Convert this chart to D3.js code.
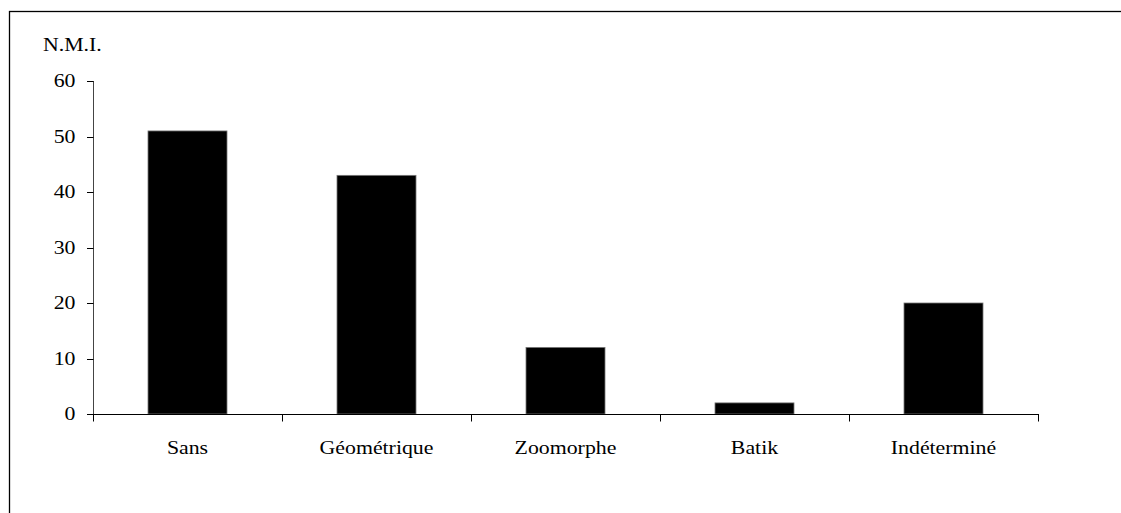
<!DOCTYPE html>
<html>
<head>
<meta charset="utf-8">
<script src="https://cdn.jsdelivr.net/npm/d3@7"></script>
<style>
  body { margin: 0; background: #fff; }
  text { font-family: "Liberation Serif", "Times New Roman", serif; font-size: 18.5px; fill: #000; }
</style>
</head>
<body>
<div id="chart"></div>
<script>
// data
var categories = ["Sans", "Géométrique", "Zoomorphe", "Batik", "Indéterminé"];
var values = [51, 43, 12, 2, 20];
var yTicks = [0, 10, 20, 30, 40, 50, 60];
var yTitle = "N.M.I.";

var width = 1121, height = 513;
var stretch = 1.18; // text in the picture is stretched horizontally

var svg = d3.select("#chart").append("svg")
    .attr("width", width)
    .attr("height", height);

// outer frame (runs off the right and bottom of the picture)
svg.append("rect")
    .attr("x", 9.5).attr("y", 11.5)
    .attr("width", 1300).attr("height", 700)
    .attr("fill", "none").attr("stroke", "#000").attr("stroke-width", 1.3);

var x = d3.scaleBand().domain(categories).range([93, 1038]).padding(0);
var y = d3.scaleLinear().domain([0, 60]).range([414, 81]);
var barW = x.bandwidth() * 0.418;

// bars
svg.selectAll("rect.bar")
    .data(values)
    .enter().append("rect")
    .attr("class", "bar")
    .attr("x", function(d, i) { return x(categories[i]) + (x.bandwidth() - barW) / 2; })
    .attr("y", function(d) { return y(d); })
    .attr("width", barW)
    .attr("height", function(d) { return y(0) - y(d); })
    .attr("fill", "#000")
    .attr("stroke", "#777")
    .attr("stroke-width", 0.8);

// y axis
var yAxis = svg.append("g").attr("transform", "translate(93.5,0)");
yAxis.append("line")
    .attr("x1", 0).attr("x2", 0)
    .attr("y1", y(60)).attr("y2", y(0))
    .attr("stroke", "#444").attr("stroke-width", 1);
yAxis.selectAll("line.tick")
    .data(yTicks)
    .enter().append("line")
    .attr("class", "tick")
    .attr("x1", -6.5).attr("x2", 0)
    .attr("y1", function(d) { return Math.round(y(d)) + 0.5; })
    .attr("y2", function(d) { return Math.round(y(d)) + 0.5; })
    .attr("stroke", "#000");
yAxis.selectAll("text")
    .data(yTicks)
    .enter().append("text")
    .attr("text-anchor", "end")
    .attr("dy", "0.33em")
    .attr("transform", function(d) { return "translate(-18," + y(d) + ") scale(" + stretch + ",1)"; })
    .text(function(d) { return d; });

// x axis
var xAxis = svg.append("g");
xAxis.append("line")
    .attr("x1", 87).attr("x2", 1038.5)
    .attr("y1", y(0) + 0.5).attr("y2", y(0) + 0.5)
    .attr("stroke", "#000");
var bounds = categories.map(function(c) { return x(c); }).concat([x.range()[1]]);
xAxis.selectAll("line.tick")
    .data(bounds)
    .enter().append("line")
    .attr("class", "tick")
    .attr("x1", function(d) { return Math.round(d) + 0.5; })
    .attr("x2", function(d) { return Math.round(d) + 0.5; })
    .attr("y1", y(0)).attr("y2", y(0) + 7.5)
    .attr("stroke", "#000");
xAxis.selectAll("text")
    .data(categories)
    .enter().append("text")
    .attr("text-anchor", "middle")
    .attr("transform", function(d) { return "translate(" + (x(d) + x.bandwidth() / 2) + ",454) scale(" + stretch + ",1)"; })
    .text(function(d) { return d; });

// y title
svg.append("text")
    .attr("transform", "translate(43,51) scale(" + stretch + ",1)")
    .text(yTitle);
</script>
</body>
</html>
